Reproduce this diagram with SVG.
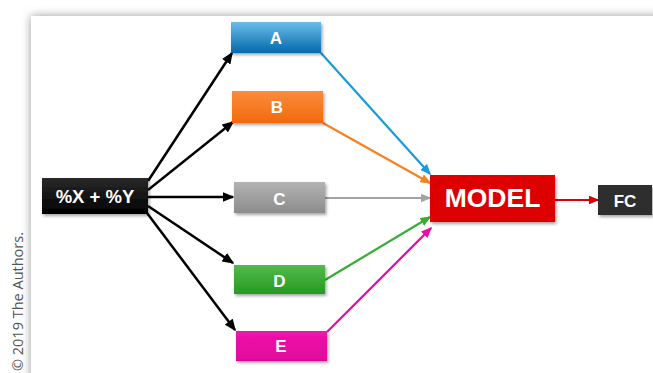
<svg xmlns="http://www.w3.org/2000/svg" width="653" height="373" viewBox="0 0 653 373">
<defs>
<style>
.lbl{font-family:"Liberation Sans",Arial,sans-serif;font-weight:bold;fill:#fff;text-anchor:middle}
.blk{stroke:#000;stroke-width:2.5;fill:none}
.col{stroke-width:2.2;fill:none}
</style>
<filter id="panelSh" x="-10%" y="-10%" width="120%" height="120%"><feGaussianBlur stdDeviation="5"/></filter>
<filter id="sh" x="-10%" y="-20%" width="130%" height="150%"><feDropShadow dx="1.5" dy="2" stdDeviation="1.5" flood-color="#000" flood-opacity="0.35"/></filter>
<linearGradient id="gA" x1="0" y1="0" x2="0" y2="1"><stop offset="0" stop-color="#6cbcea"/><stop offset="1" stop-color="#0369aa"/></linearGradient>
<linearGradient id="gB" x1="0" y1="0" x2="0" y2="1"><stop offset="0" stop-color="#fb8c3e"/><stop offset="1" stop-color="#f2690c"/></linearGradient>
<linearGradient id="gC" x1="0" y1="0" x2="0" y2="1"><stop offset="0" stop-color="#b3b3b3"/><stop offset="1" stop-color="#8c8c8c"/></linearGradient>
<linearGradient id="gD" x1="0" y1="0" x2="0" y2="1"><stop offset="0" stop-color="#52bb4a"/><stop offset="1" stop-color="#259a22"/></linearGradient>
<linearGradient id="gE" x1="0" y1="0" x2="0" y2="1"><stop offset="0" stop-color="#f014ac"/><stop offset="1" stop-color="#e0069a"/></linearGradient>
<linearGradient id="gK" x1="0" y1="0" x2="0" y2="1"><stop offset="0" stop-color="#2a2a2a"/><stop offset="1" stop-color="#000"/></linearGradient>
<marker id="mK" markerUnits="userSpaceOnUse" markerWidth="12" markerHeight="10" refX="10.5" refY="5" orient="auto"><path d="M0,0 L12,5 L0,10 z" fill="#000"/></marker>
<marker id="mA" markerUnits="userSpaceOnUse" markerWidth="11" markerHeight="9" refX="9.5" refY="4.5" orient="auto"><path d="M0,0 L11,4.5 L0,9 z" fill="#1a9ad8"/></marker>
<marker id="mB" markerUnits="userSpaceOnUse" markerWidth="11" markerHeight="9" refX="9.5" refY="4.5" orient="auto"><path d="M0,0 L11,4.5 L0,9 z" fill="#f7801f"/></marker>
<marker id="mC" markerUnits="userSpaceOnUse" markerWidth="11" markerHeight="9" refX="9.5" refY="4.5" orient="auto"><path d="M0,0 L11,4.5 L0,9 z" fill="#a3a3a3"/></marker>
<marker id="mD" markerUnits="userSpaceOnUse" markerWidth="11" markerHeight="9" refX="9.5" refY="4.5" orient="auto"><path d="M0,0 L11,4.5 L0,9 z" fill="#3aab35"/></marker>
<marker id="mE" markerUnits="userSpaceOnUse" markerWidth="11" markerHeight="9" refX="9.5" refY="4.5" orient="auto"><path d="M0,0 L11,4.5 L0,9 z" fill="#ec0ca0"/></marker>
<marker id="mR" markerUnits="userSpaceOnUse" markerWidth="11" markerHeight="9" refX="9.5" refY="4.5" orient="auto"><path d="M0,0 L11,4.5 L0,9 z" fill="#dd0000"/></marker>
</defs>
<rect width="653" height="373" fill="#fff"/>
<rect x="31" y="16" width="660" height="380" fill="#9a9a9a" filter="url(#panelSh)"/>
<rect x="31" y="16" width="660" height="380" fill="#fff"/>
<text transform="translate(22.5,232) rotate(-90)" text-anchor="end" font-family="'Open Sans','Noto Sans',sans-serif" font-size="14.5" fill="#555">© 2019 The Authors.</text>
<g id="connectors">
<line class="blk" x1="148" y1="181" x2="232" y2="53" marker-end="url(#mK)"/>
<line class="blk" x1="148" y1="190" x2="233" y2="122" marker-end="url(#mK)"/>
<line class="blk" x1="148" y1="197" x2="233" y2="197" marker-end="url(#mK)"/>
<line class="blk" x1="148" y1="206" x2="233" y2="263" marker-end="url(#mK)"/>
<line class="blk" x1="147" y1="213" x2="235" y2="330" marker-end="url(#mK)"/>
<line class="col" stroke="#1a9ad8" x1="321" y1="53" x2="430" y2="174" marker-end="url(#mA)"/>
<line class="col" stroke="#f7801f" x1="323" y1="123" x2="430" y2="183" marker-end="url(#mB)"/>
<line class="col" stroke="#a3a3a3" x1="325" y1="198" x2="430" y2="198" marker-end="url(#mC)"/>
<line class="col" stroke="#3aab35" x1="325" y1="280" x2="430" y2="217" marker-end="url(#mD)"/>
<line class="col" stroke="#ec0ca0" x1="327" y1="332" x2="431" y2="228" marker-end="url(#mE)"/>
<line stroke="#dd0000" stroke-width="2.2" x1="555" y1="200" x2="598" y2="200" marker-end="url(#mR)"/>
</g>
<g id="input">
<rect x="42" y="178" width="106" height="36" fill="url(#gK)" filter="url(#sh)"/>
<text class="lbl" x="95" y="202.5" font-size="18.5">%X + %Y</text>
</g>
<g id="nodeA">
<rect x="231" y="22" width="90" height="31" fill="url(#gA)" filter="url(#sh)"/>
<text class="lbl" x="276" y="44" font-size="17">A</text>
</g>
<g id="nodeB">
<rect x="232" y="91" width="91" height="32" fill="url(#gB)" filter="url(#sh)"/>
<text class="lbl" x="277" y="113" font-size="17">B</text>
</g>
<g id="nodeC">
<rect x="234" y="182" width="91" height="31" fill="url(#gC)" filter="url(#sh)"/>
<text class="lbl" x="279.5" y="204.5" font-size="17">C</text>
</g>
<g id="nodeD">
<rect x="234" y="265" width="91" height="29" fill="url(#gD)" filter="url(#sh)"/>
<text class="lbl" x="279.5" y="287" font-size="17">D</text>
</g>
<g id="nodeE">
<rect x="236" y="331" width="91" height="30" fill="url(#gE)" filter="url(#sh)"/>
<text class="lbl" x="281" y="352" font-size="17">E</text>
</g>
<g id="model">
<rect x="430" y="175" width="125" height="47" fill="#dd0000" filter="url(#sh)"/>
<text class="lbl" x="492.5" y="207" font-size="26.5">MODEL</text>
</g>
<g id="fc">
<rect x="598" y="185" width="54" height="30" fill="#2e2e2e" filter="url(#sh)"/>
<text class="lbl" x="625" y="206.5" font-size="17">FC</text>
</g>
</svg>
